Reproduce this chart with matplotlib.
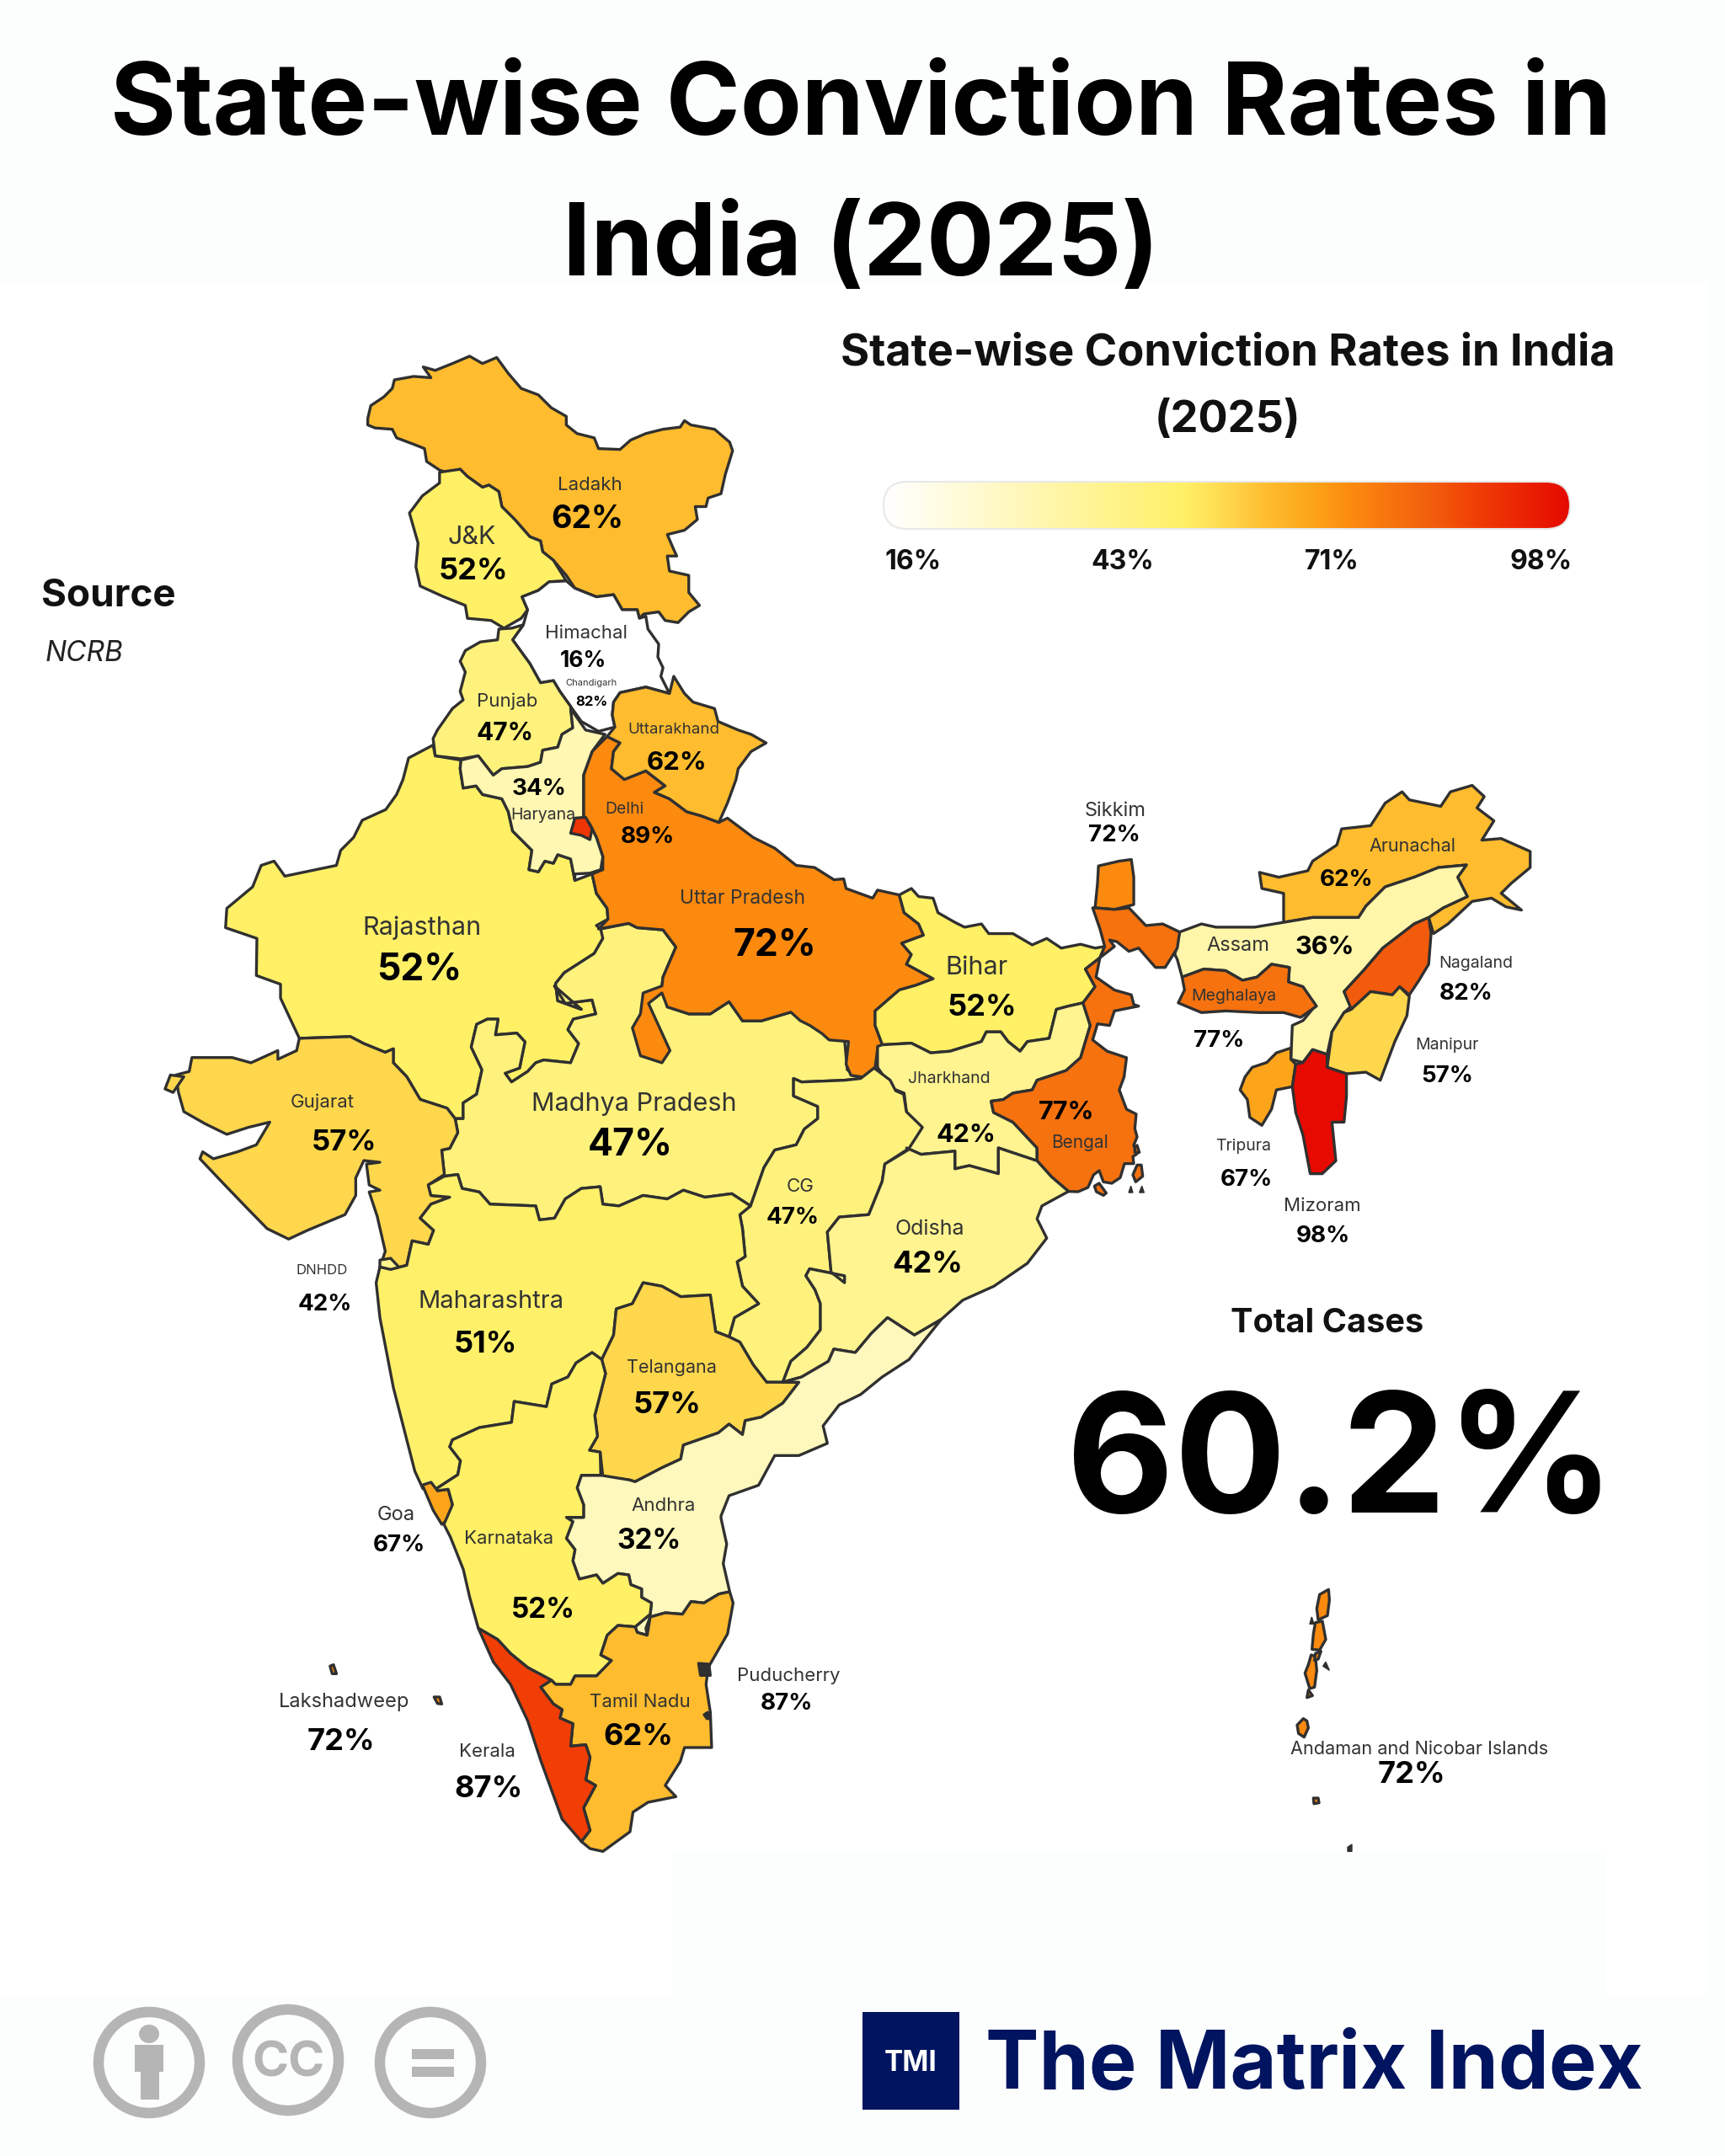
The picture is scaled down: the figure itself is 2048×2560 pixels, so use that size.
import numpy as np
import matplotlib
matplotlib.use("Agg")
import matplotlib.pyplot as plt
from matplotlib.colors import LinearSegmentedColormap, Normalize
from matplotlib.patches import Polygon, Circle, Ellipse, Rectangle, FancyBboxPatch

plt.rcParams['font.family'] = ['Inter', 'DejaVu Sans']

# conviction rates, %
states = ['Ladakh', 'J&K', 'Himachal', 'Chandigarh', 'Punjab', 'Uttarakhand', 'Haryana', 'Delhi',
          'Uttar Pradesh', 'Rajasthan', 'Bihar', 'Sikkim', 'Arunachal', 'Assam', 'Meghalaya',
          'Nagaland', 'Manipur', 'Jharkhand', 'Bengal', 'Tripura', 'Mizoram', 'Gujarat',
          'Madhya Pradesh', 'CG', 'Odisha', 'DNHDD', 'Maharashtra', 'Telangana', 'Andhra', 'Goa',
          'Karnataka', 'Puducherry', 'Tamil Nadu', 'Lakshadweep', 'Kerala',
          'Andaman and Nicobar Islands']
rates = [62, 52, 16, 82, 47, 62, 34, 89, 72, 52, 52, 72, 62, 36, 77, 82, 57, 42, 77, 67, 98, 57,
         47, 47, 42, 42, 51, 57, 32, 67, 52, 87, 62, 72, 87, 72]

cbar_ticks = [16, 43, 71, 98]
total_rate = 60.2

TITLE = "State-wise Conviction Rates in\nIndia (2025)"
SUBTITLE = "State-wise Conviction Rates in India\n(2025)"

# colour ramp of the map, colour stops by rate
ramp_rates = [16, 34, 52, 57, 62, 67, 72, 77, 82, 87, 98]
ramp_colors = ['#FFFFFF', '#FFF7B2', '#FFF066', '#FFD84D', '#FFBC2E', '#FDA61A', '#FC8A0E',
               '#F6720E', '#F25C0C', '#F03E05', '#E60A00']


# outlines were traced on enlarged crops, these put them back in image pixels
def crop(x0, y0, w, h, out_w=1568, out_h=1568):
    def conv(pts):
        return [(x0 + x * w / out_w, y0 + y * h / out_h) for x, y in pts]
    return conv


z1 = crop(180, 400, 800, 800)
z2 = crop(950, 900, 900, 600)
z3 = crop(180, 1150, 1000, 650)
z4 = crop(300, 1700, 800, 520, 1568, 1560)
z7 = crop(1470, 1870, 360, 360, 1080, 1080)
z8 = crop(1260, 1340, 120, 80, 360, 240)
z9 = crop(800, 1950, 90, 130, 270, 390)

shapes = {}
shapes['Rajasthan'] = [z1([(598, 980), (655, 950), (660, 975), (720, 985), (718, 1005), (725, 1050), (755, 1045), (770, 1065), (815, 1075), (830, 1105), (840, 1150), (885, 1195), (878, 1240), (900, 1245), (915, 1220), (935, 1225), (945, 1205), (975, 1215), (985, 1265), (1025, 1250), (1035, 1295), (1060, 1330), (1062, 1355), (1035, 1370), (1045, 1378), (1110, 1365), (1050, 1400), (1030, 1435), (960, 1480), (940, 1505), (945, 1545), (1000, 1565)])
                       + z3([(750, 50), (770, 100), (820, 90), (827, 130), (785, 145), (775, 175), (795, 215), (780, 270), (730, 262), (715, 270), (700, 295), (670, 325), (658, 300), (685, 285), (695, 210), (680, 185), (640, 190), (645, 145), (625, 145), (605, 160), (595, 225), (615, 290), (605, 360), (580, 385), (580, 430), (565, 430), (550, 400), (500, 375), (475, 310), (450, 270), (450, 230), (435, 240), (395, 215), (370, 195), (275, 200), (240, 85), (240, 45), (195, 20)])
                       + z1([(245, 1400), (172, 1375), (175, 1330), (235, 1280), (255, 1230), (285, 1220), (310, 1255), (430, 1230), (440, 1195), (470, 1165), (490, 1125), (545, 1100), (570, 1065), (585, 1030)])]
shapes['Madhya Pradesh'] = [z1([(1045, 1378), (1110, 1365), (1130, 1375), (1190, 1380), (1220, 1420), (1190, 1490)])
                            + z3([(950, 50), (960, 110), (1000, 130), (1040, 130), (1075, 95), (1100, 150), (1135, 150), (1190, 125), (1250, 185), (1290, 205), (1295, 290), (1320, 315), (1290, 320), (1210, 325), (1195, 315), (1195, 365), (1240, 395), (1240, 430), (1215, 460), (1200, 505), (1160, 520), (1140, 570), (1115, 680), (1080, 645), (1030, 655), (990, 635), (960, 660), (915, 650), (870, 680), (840, 675), (835, 625), (800, 630), (770, 660), (750, 715), (722, 720), (715, 680), (630, 675), (610, 640), (578, 630), (570, 590), (545, 595), (540, 520), (555, 515), (570, 470), (565, 430), (580, 430), (580, 385), (605, 360), (615, 290), (595, 225), (605, 160), (625, 145), (645, 145), (640, 190), (680, 185), (695, 210), (685, 285), (658, 300), (670, 325), (700, 295), (715, 270), (730, 262), (780, 270), (795, 215), (775, 175), (785, 145), (827, 130), (820, 90), (770, 100), (750, 50)])
                            + z1([(1000, 1565), (945, 1545), (940, 1505), (960, 1480), (1030, 1435), (1050, 1400)])]
shapes['Uttar Pradesh'] = [z1([(1060, 930), (1090, 945), (1075, 965), (1070, 1005), (1100, 1030), (1150, 1010), (1195, 1045), (1170, 1060), (1205, 1075), (1245, 1105), (1280, 1115), (1320, 1130), (1340, 1120), (1400, 1165), (1450, 1190), (1500, 1230)])
                           + z2([(30, 340), (70, 378), (90, 375), (95, 405), (150, 435), (160, 410), (205, 425), (215, 480), (245, 515), (255, 550), (210, 575), (230, 610), (220, 640), (275, 685), (240, 705), (205, 720), (155, 785), (155, 830), (170, 890), (160, 905), (155, 960), (130, 990), (105, 985), (95, 950), (100, 880), (60, 875), (45, 855), (20, 830), (0, 815)])
                           + z3([(1190, 125), (1135, 150), (1100, 150), (1075, 95), (1040, 130), (1000, 130), (960, 110), (950, 70), (925, 100), (965, 235), (950, 270), (910, 250), (895, 170), (910, 130), (915, 70), (950, 50)])
                           + z1([(1190, 1490), (1220, 1420), (1190, 1380), (1130, 1375), (1110, 1365), (1040, 1378), (1062, 1355), (1060, 1330), (1035, 1295), (1025, 1250), (1050, 1240), (1050, 1210), (1035, 1165), (1020, 1135), (1005, 1115), (1005, 1020), (1025, 965)])]
shapes['Ladakh'] = [z1([(503, 190), (510, 160), (540, 140), (560, 120), (565, 100), (610, 92), (650, 95), (632, 70), (660, 78), (700, 62), (740, 45), (770, 62), (803, 48), (830, 85), (860, 120), (900, 135), (930, 165), (965, 185), (965, 205), (990, 225), (1030, 235), (1040, 260), (1090, 262), (1115, 240), (1150, 225), (1190, 215), (1230, 210), (1240, 195), (1255, 205), (1310, 215), (1345, 245), (1352, 265), (1335, 320), (1325, 365), (1295, 375), (1290, 395), (1265, 395), (1270, 425), (1240, 450), (1200, 460), (1215, 495), (1222, 510), (1200, 510), (1205, 545), (1250, 555), (1250, 595), (1275, 625), (1250, 640), (1225, 665), (1195, 660), (1180, 640), (1145, 645), (1135, 655), (1130, 635), (1095, 635), (1075, 600), (1035, 605), (985, 585), (965, 555), (935, 520), (910, 500), (905, 475), (880, 465), (845, 425), (815, 395), (808, 360), (785, 345), (770, 350), (735, 325), (718, 308), (700, 320), (670, 310), (640, 290), (635, 260), (610, 250), (570, 235), (560, 215), (520, 212), (503, 205)])]
shapes['J&K'] = [z1([(670, 315), (718, 308), (735, 325), (770, 350), (785, 345), (808, 360), (815, 395), (845, 425), (880, 465), (905, 475), (910, 500), (935, 520), (965, 568), (925, 570), (900, 590), (862, 605), (875, 635), (860, 655), (820, 678), (790, 660), (735, 655), (730, 625), (680, 605), (625, 580), (615, 535), (620, 480), (600, 410), (630, 370), (670, 340)])]
shapes['Himachal'] = [z1([(965, 568), (985, 585), (1035, 605), (1075, 600), (1095, 635), (1130, 635), (1135, 655), (1150, 650), (1155, 680), (1180, 715), (1178, 745), (1190, 770), (1185, 790), (1205, 830), (1150, 815), (1090, 828), (1075, 850), (1072, 880), (1078, 908), (1040, 918), (1000, 895), (975, 860), (950, 825), (935, 800), (905, 805), (880, 760), (840, 705), (865, 670), (875, 635), (862, 605), (900, 590), (925, 570)])]
shapes['Punjab'] = [z1([(808, 680), (805, 705), (765, 710), (730, 730), (718, 755), (730, 780), (718, 825), (725, 845), (700, 865), (665, 915), (655, 935), (660, 975), (720, 982), (760, 975), (795, 1020), (815, 1005), (875, 1000), (905, 990), (910, 962), (945, 955), (955, 925), (980, 910), (975, 860), (950, 825), (935, 800), (905, 805), (880, 760), (840, 705), (865, 670), (838, 678)])]
shapes['Haryana'] = [z1([(720, 985), (760, 975), (795, 1020), (815, 1005), (875, 1000), (905, 990), (910, 962), (945, 955), (955, 925), (980, 910), (975, 865), (1010, 915), (1055, 925), (1025, 965), (1005, 1020), (1005, 1115), (1020, 1135), (1035, 1165), (1050, 1210), (1045, 1240), (1020, 1248), (985, 1250), (985, 1265), (975, 1215), (945, 1205), (935, 1225), (915, 1220), (900, 1245), (878, 1240), (885, 1195), (840, 1150), (830, 1105), (815, 1075), (770, 1065), (755, 1045), (725, 1050), (718, 1005)])]
shapes['Delhi'] = [z1([(985, 1120), (1010, 1118), (1025, 1145), (1020, 1170), (1000, 1160), (975, 1155)])]
shapes['Chandigarh'] = [z1([(958, 878), (970, 875), (970, 888), (960, 885)])]
shapes['Uttarakhand'] = [z1([(1078, 908), (1072, 880), (1075, 850), (1090, 828), (1150, 815), (1205, 830), (1215, 790), (1240, 830), (1260, 850), (1310, 865), (1318, 895), (1365, 915), (1395, 925), (1430, 945), (1395, 965), (1365, 1005), (1360, 1030), (1340, 1085), (1320, 1130), (1280, 1115), (1245, 1105), (1205, 1075), (1170, 1060), (1195, 1045), (1150, 1010), (1100, 1030), (1070, 1005), (1075, 965), (1090, 945), (1060, 930)])]
shapes['Gujarat'] = [z3([(275, 200), (370, 195), (395, 215), (435, 240), (450, 230), (450, 270), (475, 310), (500, 375), (550, 400), (565, 430), (570, 470), (555, 515), (540, 520), (545, 590), (515, 620), (520, 650), (555, 655), (520, 675), (500, 715), (525, 750), (515, 790), (485, 780), (475, 850), (445, 862), (425, 855), (435, 810), (420, 710), (405, 640), (425, 635), (405, 620), (400, 560), (425, 555), (395, 550), (380, 600), (380, 650), (360, 705), (290, 750), (255, 775), (215, 745), (180, 690), (130, 610), (90, 545), (95, 525), (115, 545), (160, 525), (195, 505), (220, 440), (180, 455), (140, 475), (100, 445), (60, 410), (50, 355), (45, 305), (70, 295), (75, 255), (100, 255), (150, 255), (185, 270), (235, 235), (235, 260), (270, 235)]),
                     z3([(25, 345), (35, 305), (60, 310), (40, 355)])]
shapes['Maharashtra'] = [z3([(425, 855), (418, 900), (425, 1000), (435, 1080), (450, 1200), (470, 1320), (490, 1440), (505, 1490), (530, 1490), (570, 1450), (575, 1410), (555, 1370), (560, 1350), (610, 1315), (670, 1300), (675, 1240), (735, 1255), (745, 1190), (775, 1170), (790, 1130), (820, 1100), (838, 1120), (860, 1050), (865, 975), (895, 960), (915, 900), (950, 910), (985, 940), (1040, 935), (1050, 1040), (1075, 1055), (1085, 1000), (1130, 960), (1100, 910), (1090, 840), (1105, 825), (1100, 745), (1095, 705), (1115, 680), (1080, 645), (1030, 655), (990, 635), (960, 660), (915, 650), (870, 680), (840, 675), (835, 625), (800, 630), (770, 660), (750, 715), (722, 720), (715, 680), (630, 675), (610, 640), (578, 630), (570, 590), (545, 595), (515, 620), (520, 650), (555, 655), (520, 675), (500, 715), (525, 750), (515, 790), (485, 780), (475, 850), (445, 862)])]
shapes['DNHDD'] = [z3([(425, 835), (445, 830), (462, 858), (445, 864), (425, 855)])]
shapes['CG'] = [z3([(1195, 315), (1210, 325), (1290, 320), (1320, 315), (1345, 285), (1375, 320), (1385, 350), (1400, 360), (1405, 410), (1435, 455), (1410, 515), (1365, 560), (1360, 610), (1335, 705), (1280, 712), (1258, 755), (1265, 870), (1290, 900), (1290, 880), (1225, 860), (1218, 880), (1235, 920), (1245, 960), (1245, 1035), (1220, 1085), (1190, 1125), (1175, 1185), (1145, 1185), (1120, 1135), (1095, 1070), (1075, 1055), (1085, 1000), (1130, 960), (1100, 910), (1090, 840), (1105, 825), (1100, 745), (1095, 705), (1115, 680), (1140, 570), (1160, 520), (1200, 505), (1215, 460), (1240, 430), (1240, 395), (1195, 365)])]
shapes['Odisha'] = [z3([(1408, 520), (1365, 560), (1360, 610), (1335, 705), (1280, 712), (1258, 755), (1265, 870), (1290, 900), (1290, 880), (1225, 860), (1218, 880), (1235, 920), (1245, 960), (1245, 1035), (1220, 1085), (1190, 1125), (1175, 1185), (1210, 1170), (1260, 1125), (1270, 1090), (1310, 1100), (1340, 1045), (1370, 1000), (1385, 1015), (1420, 1050), (1470, 1005), (1510, 950), (1568, 910)])
                    + z2([(470, 1568), (510, 1490), (490, 1430), (500, 1390), (555, 1345), (520, 1300), (490, 1250), (440, 1225), (410, 1210), (410, 1290), (350, 1265), (320, 1275), (320, 1220), (250, 1230), (220, 1210)])]
shapes['Telangana'] = [z3([(915, 900), (950, 910), (985, 940), (1040, 935), (1050, 1040), (1075, 1055), (1095, 1070), (1120, 1135), (1145, 1185), (1175, 1185), (1205, 1185), (1175, 1245), (1135, 1285), (1105, 1295), (1100, 1335), (1075, 1305), (1055, 1330), (990, 1365), (985, 1405), (950, 1430), (900, 1470), (890, 1465), (840, 1455), (835, 1385), (815, 1380), (830, 1340), (825, 1280), (835, 1220), (845, 1160), (838, 1120), (860, 1050), (865, 975), (895, 960)])]
shapes['Andhra'] = [z3([(1175, 1185), (1210, 1170), (1260, 1125), (1270, 1090), (1310, 1100), (1340, 1045), (1370, 1000), (1385, 1015), (1420, 1050), (1470, 1005), (1410, 1120), (1360, 1170), (1320, 1220), (1280, 1250), (1250, 1310), (1258, 1360), (1205, 1395), (1160, 1395), (1130, 1480), (1075, 1510), (1060, 1568)])
                    + z4([(1090, 310), (1103, 400), (1095, 470), (1110, 570), (1085, 578), (1050, 610), (1020, 605), (1000, 650), (960, 645), (925, 660), (915, 700), (918, 725), (895, 715), (890, 695), (925, 650), (928, 610), (905, 590), (905, 560), (880, 545), (875, 510), (850, 505), (815, 540), (800, 510), (760, 525), (745, 460), (750, 420), (730, 380), (745, 320), (730, 305), (770, 305), (770, 260), (755, 200), (765, 155), (810, 155)])
                    + z3([(890, 1465), (900, 1470), (950, 1430), (985, 1405), (990, 1365), (1055, 1330), (1075, 1305), (1100, 1335), (1105, 1295), (1135, 1285), (1175, 1245), (1205, 1185)])]
shapes['Karnataka'] = [z4([(430, 210), (455, 205), (465, 260), (445, 330), (460, 375), (490, 490), (505, 590), (525, 700), (570, 740), (600, 790), (640, 840), (695, 885), (705, 900), (740, 900), (750, 870), (800, 870), (835, 815), (810, 795), (825, 725), (850, 690), (890, 695), (925, 650), (928, 610), (905, 590), (905, 560), (880, 545), (875, 510), (850, 505), (815, 540), (800, 510), (760, 525), (745, 460), (750, 420), (730, 380), (745, 320), (730, 305), (770, 305), (770, 260), (755, 200), (765, 155), (810, 155)])
                       + z3([(835, 1385), (815, 1380), (830, 1340), (825, 1280), (835, 1220), (845, 1160), (838, 1120), (820, 1100), (790, 1130), (775, 1170), (745, 1190), (735, 1255), (675, 1240), (670, 1300), (610, 1315), (560, 1350), (555, 1370), (575, 1410), (570, 1450), (530, 1490)])]
shapes['Goa'] = [z4([(395, 190), (415, 180), (430, 210), (455, 205), (465, 260), (458, 310), (440, 330), (420, 280)])]
shapes['Kerala'] = [z4([(525, 700), (570, 740), (600, 790), (640, 840), (695, 885), (670, 910), (700, 970), (720, 990), (715, 1020), (745, 1040), (740, 1120), (775, 1115), (785, 1160), (775, 1240), (798, 1260), (770, 1340), (785, 1420), (765, 1460), (720, 1380), (670, 1170), (640, 1030), (600, 900), (560, 820)])]
shapes['Tamil Nadu'] = [z4([(695, 885), (705, 900), (740, 900), (750, 870), (800, 870), (835, 815), (810, 795), (825, 725), (850, 690), (890, 695), (895, 715), (918, 725), (925, 660), (960, 645), (1000, 650), (1020, 605), (1050, 610), (1085, 578), (1110, 570), (1118, 610), (1105, 720), (1060, 840), (1055, 900), (1065, 1000), (1068, 1125), (1005, 1125), (995, 1175), (960, 1260), (985, 1300), (920, 1320), (885, 1355), (878, 1425), (815, 1495), (785, 1485), (765, 1460), (785, 1420), (770, 1340), (798, 1260), (775, 1240), (785, 1160), (775, 1115), (740, 1120), (745, 1040), (715, 1020), (720, 990), (700, 970), (670, 910)])]
shapes['Puducherry'] = [z9([(88, 75), (125, 78), (130, 118), (95, 118)]), z9([(108, 258), (120, 250), (130, 255), (130, 272), (118, 272)])]
shapes['Lakshadweep'] = [z4([(180, 835), (188, 830), (195, 862), (185, 862)]), z4([(422, 945), (435, 945), (440, 970), (430, 968)])]
shapes['Bihar'] = [z2([(205, 425), (230, 405), (245, 430), (275, 435), (285, 480), (320, 510), (340, 525), (375, 515), (390, 545), (440, 545), (480, 580), (510, 560), (540, 590), (580, 578), (610, 590), (630, 585), (620, 620), (590, 655), (610, 710), (585, 760), (555, 770), (530, 780), (515, 870), (470, 880), (455, 910), (430, 880), (415, 850), (385, 850), (375, 880), (310, 910), (270, 915), (230, 885), (170, 890), (155, 830), (155, 785), (205, 720), (240, 705), (275, 685), (220, 640), (230, 610), (210, 575), (255, 550), (245, 515), (215, 480)])]
shapes['Jharkhand'] = [z2([(160, 895), (170, 890), (230, 885), (270, 915), (310, 910), (375, 880), (385, 850), (415, 850), (430, 880), (455, 910), (470, 880), (515, 870), (530, 780), (555, 770), (585, 760), (600, 830), (590, 880), (580, 930), (550, 970), (490, 1000), (480, 1030), (440, 1040), (420, 1060), (395, 1065), (400, 1100), (440, 1130), (490, 1210), (490, 1250), (440, 1225), (410, 1210), (410, 1290), (350, 1265), (320, 1275), (320, 1220), (250, 1230), (220, 1210), (250, 1145), (220, 1100), (215, 1040), (190, 1025), (160, 960)])]
shapes['Bengal'] = [z2([(610, 465), (650, 470), (680, 465), (715, 520), (750, 515), (785, 540), (780, 590), (755, 650), (735, 650), (700, 590), (680, 600), (655, 570), (640, 565), (650, 585), (620, 620), (612, 680), (650, 720), (685, 735), (690, 765), (700, 770), (650, 785), (640, 830), (615, 825), (605, 875), (635, 910), (675, 930), (670, 990), (660, 1030), (675, 1090), (695, 1105)])
                    + z8([(262, 0), (270, 30), (258, 60), (270, 90), (255, 100), (258, 125), (225, 125), (210, 175), (180, 195), (150, 190), (135, 150), (115, 165), (95, 210), (60, 225), (26, 224)])
                    + z2([(520, 1300), (490, 1250), (490, 1210), (440, 1130), (400, 1100), (395, 1065), (420, 1060), (440, 1040), (480, 1030), (490, 1000), (550, 970), (580, 930), (590, 880), (600, 830), (585, 760), (610, 710), (590, 655), (620, 620), (630, 585), (620, 530), (605, 465)]),
                    z8([(255, 165), (270, 130), (285, 130), (290, 170), (265, 190)]),
                    z8([(118, 205), (135, 195), (160, 230), (150, 238), (125, 225)]),
                    z8([(262, 65), (270, 60), (278, 85), (262, 85)])]
shapes['Sikkim'] = [z2([(617, 335), (660, 320), (685, 315), (690, 370), (690, 455), (650, 470), (610, 465), (615, 390)])]
shapes['Assam'] = [z2([(785, 540), (830, 515), (860, 525), (940, 525), (1000, 510), (1060, 495), (1155, 495), (1170, 460), (1210, 400), (1270, 370), (1320, 340), (1378, 332), (1360, 370), (1380, 430), (1330, 465), (1300, 495), (1270, 515), (1205, 590), (1165, 660), (1125, 725), (1140, 770), (1125, 790), (1100, 850), (1090, 920), (1060, 905), (1040, 945), (1015, 935), (1018, 830), (1040, 815), (1065, 770), (1040, 710), (1010, 695), (1012, 650), (975, 640), (945, 680), (915, 690), (880, 660), (835, 655), (790, 680), (780, 625), (775, 610)])]
shapes['Meghalaya'] = [z2([(790, 680), (835, 655), (880, 660), (915, 690), (945, 680), (975, 640), (1012, 650), (1010, 695), (1040, 710), (1068, 770), (1035, 805), (1000, 790), (950, 790), (880, 785), (830, 790), (782, 760), (795, 720)])]
shapes['Arunachal'] = [z2([(950, 355), (990, 370), (1050, 350), (1060, 320), (1110, 270), (1120, 220), (1180, 210), (1210, 140), (1245, 105), (1260, 130), (1325, 150), (1345, 105), (1390, 85), (1415, 120), (1400, 155), (1435, 195), (1410, 255), (1450, 250), (1510, 290), (1510, 340), (1470, 390), (1450, 420), (1492, 472), (1460, 462), (1430, 435), (1390, 445), (1340, 515), (1310, 545), (1300, 495), (1330, 465), (1380, 430), (1360, 370), (1378, 332), (1320, 340), (1270, 370), (1210, 400), (1170, 460), (1155, 495), (1060, 495), (1000, 510), (1000, 420), (955, 405)])]
shapes['Nagaland'] = [z2([(1300, 495), (1305, 545), (1300, 640), (1280, 690), (1260, 735), (1240, 710), (1225, 735), (1180, 725), (1140, 780), (1125, 725), (1165, 660), (1205, 590), (1270, 515)])]
shapes['Manipur'] = [z2([(1180, 725), (1225, 735), (1240, 710), (1260, 740), (1255, 800), (1230, 880), (1200, 1000), (1170, 975), (1130, 980), (1090, 960), (1100, 850), (1125, 790), (1140, 780)])]
shapes['Mizoram'] = [z2([(1060, 905), (1090, 920), (1090, 960), (1130, 980), (1130, 1050), (1125, 1130), (1100, 1130), (1108, 1250), (1080, 1290), (1055, 1290), (1040, 1170), (1025, 1100), (1018, 1020), (1025, 950), (1040, 945)])]
shapes['Tripura'] = [z2([(985, 915), (1015, 900), (1015, 935), (1025, 950), (1018, 1020), (985, 1030), (975, 1090), (955, 1140), (930, 1115), (925, 1060), (910, 1030), (920, 990), (935, 960), (965, 945)])]
shapes['Andaman and Nicobar Islands'] = [z7([(290, 70), (322, 52), (325, 90), (318, 145), (285, 160), (280, 120)]),
                                         z7([(275, 170), (300, 165), (312, 230), (290, 268), (263, 265), (268, 210)]),
                                         z7([(260, 285), (275, 290), (280, 340), (272, 400), (255, 405), (238, 350), (250, 320)]),
                                         z7([(275, 280), (295, 272), (285, 300), (272, 305)]),
                                         z7([(250, 410), (265, 430), (245, 437)]),
                                         z7([(232, 512), (245, 520), (250, 545), (235, 578), (215, 565), (210, 535)]),
                                         z7([(268, 795), (285, 795), (288, 812), (270, 815)])]
# tiny specks that are only outline at this size
specks = [z8([(240, 228), (248, 205), (255, 228)]), z8([(278, 228), (287, 205), (295, 228)]),
          z7([(262, 150), (270, 175), (255, 175)]), z7([(312, 310), (325, 340), (302, 325)]),
          z7([(390, 970), (405, 960), (405, 985), (390, 985)])]

# label centres on a 1254 px wide view: name x, name y, value x, value y, name pt, value pt
label_pos = {
    'Ladakh': (429, 352, 427, 377, 16, 27), 'J&K': (343, 390, 344, 415, 22, 26),
    'Himachal': (426, 460, 424, 480, 16, 19), 'Chandigarh': (430, 496, 430, 510, 8, 12),
    'Punjab': (369, 509, 367, 533, 16, 21.5), 'Uttarakhand': (490, 530, 492, 554, 13.5, 22.5),
    'Haryana': (395, 592, 392, 573, 14, 20), 'Delhi': (454, 588, 471, 608, 14, 20),
    'Uttar Pradesh': (540, 653, 563, 687, 16.5, 32), 'Rajasthan': (307, 674, 305, 705, 22, 32),
    'Bihar': (710, 703, 714, 732, 22, 26), 'Sikkim': (811, 589, 810, 607, 17, 20),
    'Arunachal': (1027, 615, 979, 639, 15.5, 20), 'Assam': (900, 687, 963, 688, 17, 22),
    'Meghalaya': (897, 724, 886, 756, 14, 20), 'Nagaland': (1073, 700, 1066, 722, 14, 20),
    'Manipur': (1052, 759, 1052, 782, 14, 20), 'Jharkhand': (690, 784, 702, 825, 14, 22),
    'Bengal': (785, 830, 775, 808, 15, 22), 'Tripura': (904, 833, 906, 857, 14, 20),
    'Mizoram': (961, 876, 962, 898, 16, 20), 'Gujarat': (234, 801, 250, 830, 16, 25),
    'Madhya Pradesh': (461, 802, 458, 832, 22, 32), 'CG': (582, 862, 576, 885, 16, 20),
    'Odisha': (676, 893, 674, 919, 18, 26), 'DNHDD': (234, 923, 236, 948, 12, 20),
    'Maharashtra': (357, 946, 353, 977, 21, 26), 'Telangana': (488, 994, 485, 1021, 15.5, 26),
    'Andhra': (482, 1094, 472, 1120, 16, 24), 'Goa': (288, 1101, 290, 1123, 17, 20),
    'Karnataka': (370, 1118, 395, 1170, 16, 24), 'Puducherry': (573, 1218, 572, 1238, 16, 20),
    'Tamil Nadu': (465, 1237, 464, 1262, 16, 26), 'Lakshadweep': (250, 1237, 248, 1266, 17, 26),
    'Kerala': (354, 1273, 355, 1300, 16, 26), 'Andaman and Nicobar Islands': (1032, 1271, 1026, 1290, 15.6, 26),
}
V = 2048 / 1254
LABEL_DY = 1
EDGE = '#303030'
GREY = '#B5B5B5'
NAVY = '#00145F'

norm = Normalize(min(ramp_rates), max(ramp_rates))
cmap = LinearSegmentedColormap.from_list('rates', [(norm(r), c) for r, c in zip(ramp_rates, ramp_colors)])

fig = plt.figure(figsize=(20.48, 25.6), dpi=100, facecolor='#FCFDFD')
ax = fig.add_axes([0, 0, 1, 1])
ax.axis('off')

# white panel behind the map
ax.add_patch(Rectangle((0, 335), 2026, 2035, fc='white', ec='none', zorder=0))
ax.add_patch(Rectangle((797, 2197), 1110, 173, fc='#FCFDFD', ec='none', zorder=0))

draw_order = ['Rajasthan', 'Madhya Pradesh', 'Uttar Pradesh']
draw_order += [s for s in states if s in shapes and s not in draw_order and s != 'Puducherry']
draw_order.append('Puducherry')
rate_of = dict(zip(states, rates))
for name in draw_order:
    for pts in shapes[name]:
        face = EDGE if name == 'Puducherry' else cmap(norm(rate_of[name]))
        ax.add_patch(Polygon(pts, closed=True, fc=face, ec=EDGE, lw=2.4, joinstyle='round', zorder=2))
for pts in specks:
    ax.add_patch(Polygon(pts, closed=True, fc=EDGE, ec=EDGE, lw=1.0, zorder=2))

for name, rate in zip(states, rates):
    nx, ny, vx, vy, ns, vs = label_pos[name]
    ax.text(nx * V, ny * V + LABEL_DY, name, fontsize=ns, color='#333333', ha='center', va='center', zorder=4)
    ax.text(vx * V, vy * V + LABEL_DY, f"{rate}%", fontsize=vs, fontweight='bold', color='black',
            ha='center', va='center', zorder=4)

# headline
ax.text(1022, 212, TITLE, fontsize=85.7, fontweight='bold', color='black', ha='center', va='center',
        linespacing=1.65, zorder=5)
ax.text(1458, 460, SUBTITLE, fontsize=37.6, fontweight='bold', color='#111111', ha='center', va='center',
        linespacing=1.8, zorder=5)

# colour bar
gradient = np.linspace(min(cbar_ticks), max(cbar_ticks), 512).reshape(1, -1)
bar = ax.imshow(gradient, cmap=cmap, norm=norm, extent=(1049, 1864, 628, 572), aspect='auto', zorder=3)
box = FancyBboxPatch((1049, 572), 815, 56, boxstyle='round,pad=0,rounding_size=28',
                     fc='none', ec='#E8E8E8', lw=1.5, zorder=4)
ax.add_patch(box)
bar.set_clip_path(box)
ax.set_xlim(0, 2048)
ax.set_ylim(2560, 0)
for x, t in zip(np.linspace(1084, 1830, len(cbar_ticks)), cbar_ticks):
    ax.text(x, 667, f"{t}%", fontsize=23, fontweight='bold', color='#111111', ha='center', va='center', zorder=5)

# source
ax.text(49, 708, "Source", fontsize=33, fontweight='bold', color='#111111', ha='left', va='center', zorder=5)
ax.text(54, 776, "NCRB", fontsize=24, style='italic', color='#222222', ha='left', va='center', zorder=5)

# headline figure
ax.text(1576, 1571, "Total Cases", fontsize=28.5, fontweight='bold', color='#111111', ha='center', va='center', zorder=5)
ax.text(1592, 1745, f"{total_rate}%", fontsize=142, fontweight='bold', color='black', ha='center', va='center', zorder=5)

# licence badges
for cx, cy in [(177, 2449), (342, 2446), (511, 2449)]:
    ax.add_patch(Circle((cx, cy), 60, fc='none', ec=GREY, lw=9, zorder=5))
ax.add_patch(Ellipse((177, 2415), 24, 22, fc=GREY, ec='none', zorder=5))
ax.add_patch(Rectangle((160, 2428), 34, 32, fc=GREY, ec='none', zorder=5))
ax.add_patch(Rectangle((167, 2460), 22, 33, fc=GREY, ec='none', zorder=5))
ax.text(342, 2450, "CC", fontsize=42, fontweight='bold', color=GREY, ha='center', va='center', zorder=6)
ax.add_patch(Rectangle((489, 2433), 50, 12, fc=GREY, ec='none', zorder=5))
ax.add_patch(Rectangle((489, 2454), 50, 12, fc=GREY, ec='none', zorder=5))

# logo
ax.add_patch(Rectangle((1024, 2389), 115, 116, fc=NAVY, ec='none', zorder=5))
ax.text(1081.5, 2450, "TMI", fontsize=24, fontweight='bold', color='white', ha='center', va='center', zorder=6)
ax.text(1170, 2455, "The Matrix Index", fontsize=68.5, fontweight='bold', color=NAVY, ha='left', va='center', zorder=6)

fig.savefig('out.png', dpi=100, facecolor=fig.get_facecolor())
